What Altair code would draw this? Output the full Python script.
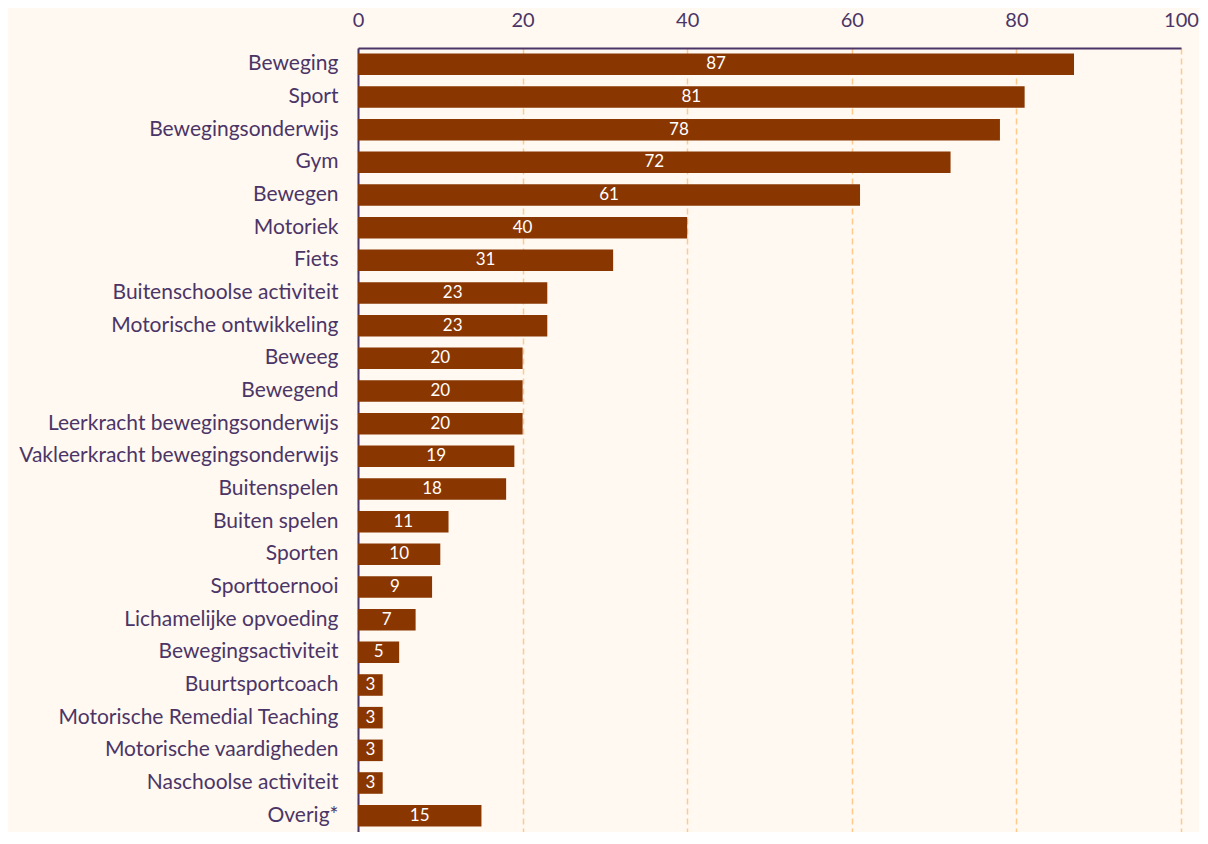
import altair as alt
import pandas as pd

categories = ["Beweging", "Sport", "Bewegingsonderwijs", "Gym", "Bewegen", "Motoriek", "Fiets",
              "Buitenschoolse activiteit", "Motorische ontwikkeling", "Beweeg", "Bewegend",
              "Leerkracht bewegingsonderwijs", "Vakleerkracht bewegingsonderwijs", "Buitenspelen",
              "Buiten spelen", "Sporten", "Sporttoernooi", "Lichamelijke opvoeding",
              "Bewegingsactiviteit", "Buurtsportcoach", "Motorische Remedial Teaching",
              "Motorische vaardigheden", "Naschoolse activiteit", "Overig*"]
values = [87, 81, 78, 72, 61, 40, 31, 23, 23, 20, 20, 20, 19, 18, 11, 10, 9, 7, 5, 3, 3, 3, 3, 15]
x_ticks = [0, 20, 40, 60, 80, 100]

df = pd.DataFrame({"cat": categories, "val": values})
df["half"] = df["val"] / 2

PURPLE = "#4b3566"
BROWN = "#8a3600"
BG = "#fff9f2"

y = alt.Y("cat:N", sort=categories, title=None,
          scale=alt.Scale(paddingInner=0.34, paddingOuter=0.17),
          axis=alt.Axis(labelFont="Lato", labelFontSize=21, labelColor=PURPLE,
                        labelPadding=20, labelLimit=0, ticks=False, domainColor=PURPLE,
                        domainWidth=2, grid=False))

bars = alt.Chart(df).mark_bar(color=BROWN).encode(
    x=alt.X("val:Q", title=None,
            scale=alt.Scale(domain=[0, 100], nice=False),
            axis=alt.Axis(orient="top", values=x_ticks, labelFont="Lato", labelFontSize=20,
                          labelColor=PURPLE, ticks=False, labelPadding=18, labelFlush=False,
                          domainColor=PURPLE, domainWidth=2,
                          grid=True, gridColor="#ffc98a", gridDash=[6, 4], gridWidth=1.5)),
    y=y,
)

text = alt.Chart(df).mark_text(color="white", font="Lato", fontSize=17, baseline="middle",
                               align="center").encode(
    x=alt.X("half:Q"),
    y=alt.Y("cat:N", sort=categories),
    text=alt.Text("val:Q"),
)

chart = alt.layer(bars, text).properties(
    width=823, height=784,
    background=BG,
    padding={"left": 350, "top": 40, "right": 18, "bottom": 0},
    autosize=alt.AutoSizeParams(type="none"),
).configure_view(stroke=None)

chart.save("out.html", embed_options={"renderer": "svg", "actions": False})
